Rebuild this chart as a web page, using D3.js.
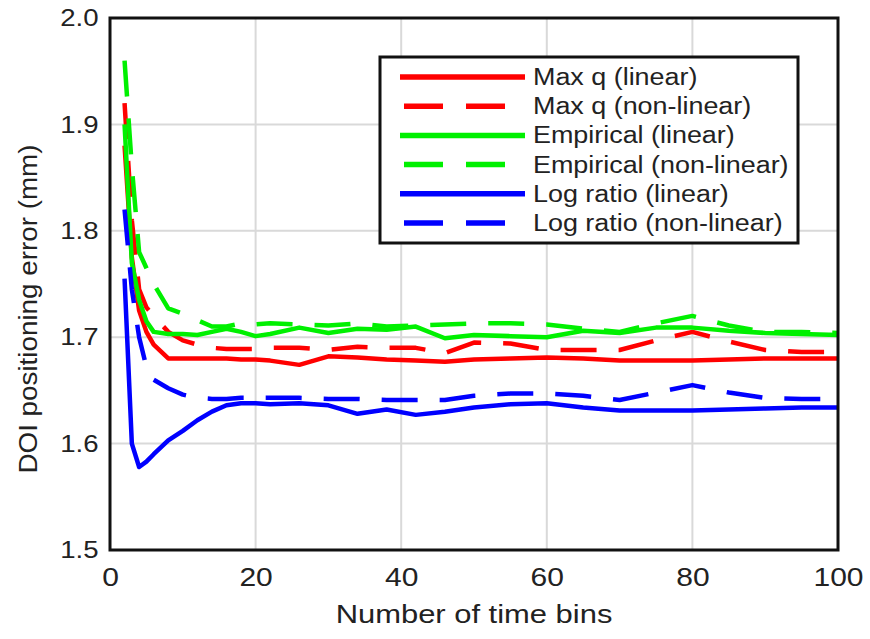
<!DOCTYPE html>
<html>
<head>
<meta charset="utf-8">
<script src="https://cdn.jsdelivr.net/npm/d3@7"></script>
<style>
  body { margin: 0; background: #fff; }
  text { font-family: "Liberation Sans", Arial, sans-serif; fill: #222; }
  .wide { transform-box: fill-box; transform-origin: center; }
</style>
</head>
<body>
<div id="chart"></div>
<script>
var bins = [2, 3, 4, 5, 6, 8, 10, 12, 14, 16, 18, 20, 22, 26, 30, 34, 38, 42, 46, 50, 55, 60, 65, 70, 75, 80, 85, 90, 95, 100];

var maxqLinear    = [1.88, 1.775, 1.725, 1.705, 1.693, 1.680, 1.680, 1.680, 1.680, 1.680, 1.679, 1.679, 1.678, 1.674, 1.682, 1.681, 1.679, 1.678, 1.677, 1.679, 1.680, 1.681, 1.680, 1.678, 1.678, 1.678, 1.679, 1.680, 1.680, 1.680];
var maxqNonlinear = [1.92, 1.81, 1.745, 1.728, 1.72, 1.705, 1.697, 1.693, 1.690, 1.689, 1.689, 1.689, 1.690, 1.690, 1.688, 1.691, 1.690, 1.690, 1.685, 1.695, 1.694, 1.688, 1.688, 1.688, 1.697, 1.705, 1.696, 1.688, 1.686, 1.686];
var empLinear     = [1.90, 1.77, 1.735, 1.715, 1.705, 1.703, 1.703, 1.702, 1.705, 1.708, 1.705, 1.701, 1.703, 1.709, 1.704, 1.708, 1.707, 1.710, 1.699, 1.702, 1.701, 1.700, 1.706, 1.704, 1.709, 1.709, 1.706, 1.704, 1.703, 1.702];
var empNonlinear  = [1.96, 1.86, 1.78, 1.765, 1.75, 1.727, 1.722, 1.716, 1.710, 1.710, 1.713, 1.712, 1.713, 1.712, 1.711, 1.713, 1.710, 1.711, 1.712, 1.713, 1.713, 1.712, 1.708, 1.705, 1.713, 1.720, 1.711, 1.705, 1.705, 1.704];
var logLinear     = [1.755, 1.60, 1.578, 1.583, 1.59, 1.603, 1.612, 1.622, 1.630, 1.636, 1.638, 1.638, 1.637, 1.638, 1.636, 1.628, 1.632, 1.627, 1.630, 1.634, 1.637, 1.638, 1.634, 1.631, 1.631, 1.631, 1.632, 1.633, 1.634, 1.634];
var logNonlinear  = [1.82, 1.745, 1.70, 1.672, 1.66, 1.652, 1.646, 1.643, 1.642, 1.642, 1.643, 1.643, 1.643, 1.643, 1.642, 1.642, 1.641, 1.641, 1.641, 1.645, 1.647, 1.647, 1.645, 1.641, 1.648, 1.655, 1.648, 1.643, 1.642, 1.642];

var seriesNames  = ['Max q (linear)', 'Max q (non-linear)', 'Empirical (linear)', 'Empirical (non-linear)', 'Log ratio (linear)', 'Log ratio (non-linear)'];
var seriesValues = [maxqLinear, maxqNonlinear, empLinear, empNonlinear, logLinear, logNonlinear];
var seriesColors = ['#ff0000', '#ff0000', '#00f000', '#00f000', '#0000ff', '#0000ff'];
var seriesDashed = [false, true, false, true, false, true];

var xTicks = [0, 20, 40, 60, 80, 100];
var yTicks = [1.5, 1.6, 1.7, 1.8, 1.9, 2.0];

var width = 870, height = 639,
  margin = {left: 110, right: 32, top: 18, bottom: 89};

var svg = d3.select('#chart').append('svg')
  .attr('width', width).attr('height', height);

var x = d3.scaleLinear().domain([0, 100]).range([margin.left, width - margin.right]);
var y = d3.scaleLinear().domain([1.5, 2.0]).range([height - margin.bottom, margin.top]);

// grid
svg.append('g').selectAll('line')
  .data(xTicks.slice(1, -1))
  .enter().append('line')
  .attr('x1', function (d) { return x(d); })
  .attr('x2', function (d) { return x(d); })
  .attr('y1', y(1.5)).attr('y2', y(2.0))
  .style('stroke', '#d9d9d9').style('stroke-width', 2);

svg.append('g').selectAll('line')
  .data(yTicks.slice(1, -1))
  .enter().append('line')
  .attr('y1', function (d) { return y(d); })
  .attr('y2', function (d) { return y(d); })
  .attr('x1', x(0)).attr('x2', x(100))
  .style('stroke', '#d9d9d9').style('stroke-width', 2);

// axes (labels only, frame drawn below)
var xAxis = svg.append('g')
  .attr('transform', 'translate(0,' + y(1.5) + ')')
  .call(d3.axisBottom(x).tickValues(xTicks).tickSize(0).tickPadding(18));
var yAxis = svg.append('g')
  .attr('transform', 'translate(' + x(0) + ',0)')
  .call(d3.axisLeft(y).tickValues(yTicks).tickSize(0).tickPadding(14).tickFormat(d3.format('.1f')));
xAxis.select('.domain').remove();
yAxis.select('.domain').remove();
xAxis.selectAll('text').classed('wide', true)
  .style('font-size', '25px').style('fill', '#222')
  .style('transform', 'scaleX(1.2)');
yAxis.selectAll('text').classed('wide', true)
  .style('font-size', '24px').style('fill', '#222')
  .style('transform', 'scaleX(1.15)');

// lines
var line = d3.line()
  .x(function (d, i) { return x(bins[i]); })
  .y(function (d) { return y(d); });

svg.append('g').selectAll('path')
  .data(seriesValues)
  .enter().append('path')
  .attr('d', line)
  .style('fill', 'none')
  .style('stroke', function (d, i) { return seriesColors[i]; })
  .style('stroke-width', 4.5)
  .style('stroke-linejoin', 'round')
  .style('stroke-dasharray', function (d, i) { return seriesDashed[i] ? '36,22' : null; });

// frame
svg.append('rect')
  .attr('x', x(0)).attr('y', y(2.0))
  .attr('width', x(100) - x(0)).attr('height', y(1.5) - y(2.0))
  .style('fill', 'none').style('stroke', '#111').style('stroke-width', 3);

// axis labels
svg.append('text').classed('wide', true)
  .attr('x', (x(0) + x(100)) / 2).attr('y', 623)
  .attr('text-anchor', 'middle')
  .style('font-size', '26px')
  .style('transform', 'scaleX(1.19)')
  .text('Number of time bins');

svg.append('text')
  .attr('transform', 'translate(37,' + 309 + ') rotate(-90) scale(1.07,1)')
  .attr('text-anchor', 'middle')
  .style('font-size', '26px')
  .text('DOI positioning error (mm)');

// legend
var legend = svg.append('g');
legend.append('rect')
  .attr('x', 380).attr('y', 57).attr('width', 418).attr('height', 186)
  .style('fill', '#fff').style('stroke', '#111').style('stroke-width', 3);

var rows = legend.selectAll('g.row')
  .data(seriesNames)
  .enter().append('g').classed('row', true)
  .attr('transform', function (d, i) { return 'translate(0,' + (77 + i * 29.2) + ')'; });

rows.append('line')
  .attr('x1', function (d, i) { return seriesDashed[i] ? 404 : 400; })
  .attr('x2', function (d, i) { return seriesDashed[i] ? 505 : 525; })
  .style('stroke', function (d, i) { return seriesColors[i]; })
  .style('stroke-width', 5.5)
  .style('stroke-dasharray', function (d, i) { return seriesDashed[i] ? '39,23' : null; });

rows.append('text')
  .attr('transform', 'translate(533,8) scale(1.17,1)')
  .style('font-size', '23px')
  .text(function (d) { return d; });
</script>
</body>
</html>
